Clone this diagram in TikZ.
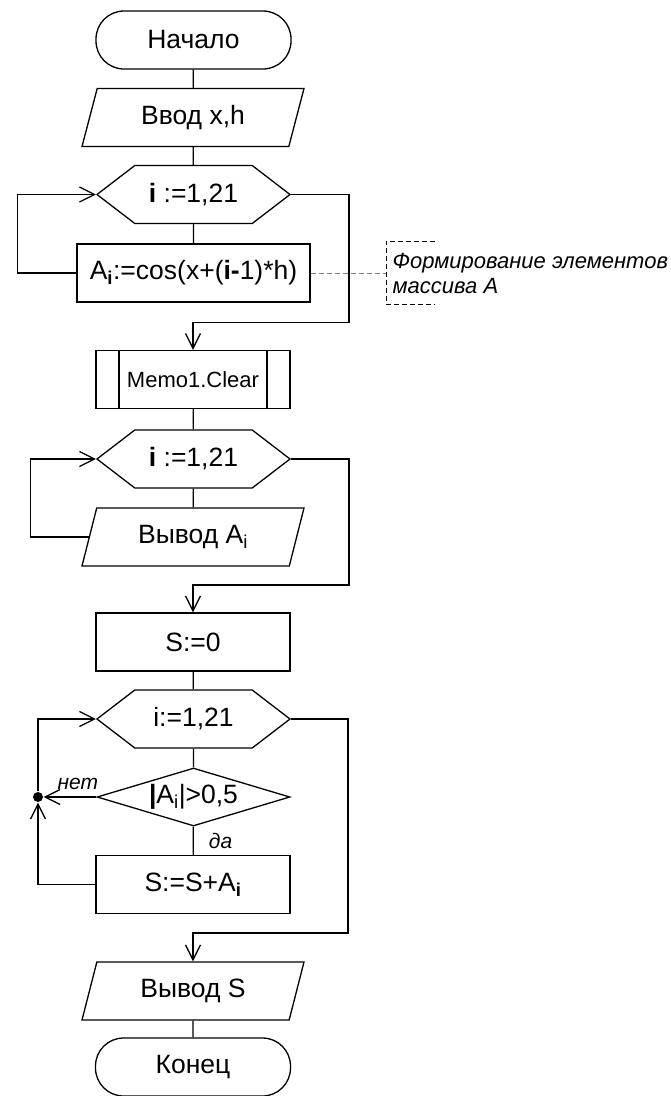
\documentclass[tikz,border=0pt]{standalone}
\usepackage{fontspec}
\setmainfont{Liberation Sans}
\usepackage{tikz}
\usetikzlibrary{shapes.geometric,shapes.symbols,arrows.meta}

\begin{document}
\begin{tikzpicture}[x=1pt,y=-1pt,line width=1.3pt,
    every node/.style={font=\fontsize{26.5}{31}\selectfont},
    term/.style={draw,rounded corners=28pt,minimum width=195pt,minimum height=58pt},
    proc/.style={draw,minimum width=194pt,minimum height=58pt},
    io/.style={draw,trapezium,trapezium left angle=64,trapezium right angle=116,
        trapezium stretches body,minimum width=222pt,minimum height=58pt},
    cyc/.style={draw,signal,signal to=west and east,signal pointer angle=75,
        minimum width=193pt,minimum height=58pt},
    cond/.style={draw,diamond,aspect=3.3,inner sep=0pt,minimum width=193pt,minimum height=58pt},
    memo/.style={proc,font=\fontsize{22}{26}\selectfont,path picture={
        \draw ([xshift=23pt]path picture bounding box.north west) -- ([xshift=23pt]path picture bounding box.south west)
              ([xshift=-23pt]path picture bounding box.north east) -- ([xshift=-23pt]path picture bounding box.south east);}},
    arr/.style={-{Straight Barb[length=15pt,width=15pt]}},
    lbl/.style={font=\fontsize{21}{25}\selectfont\itshape},
    note/.style={dash pattern=on 5pt off 3pt,line width=0.9pt},
    dot/.style={circle,fill,inner sep=0pt,minimum size=10pt}]
    \useasboundingbox (0,0) rectangle (671,1096);

    \node[term] (start) at (193.5,40) {Начало};
    \node[io] (in) at (193,117.5) {Ввод x,h};
    \node[cyc] (loopA) at (193.5,194.5) {\textbf{i} :=1,21};
    \node[proc,minimum width=233pt] (calc) at (193.5,273) {A\textsubscript{\textbf{i}}:=cos(x+(\textbf{i-}1)*h)};
    \node[memo] (memo) at (193,379.5) {Memo1.Clear};
    \node[cyc] (loopB) at (193.5,459) {\textbf{i} :=1,21};
    \node[io] (outA) at (193,537) {Вывод A\textsubscript{i}};
    \node[proc] (zero) at (193,642) {S:=0};
    \node[cyc] (loopC) at (193.5,719) {i:=1,21};
    \node[cond] (test) at (193.5,797) {\textbf{|}A\textsubscript{i}|>0,5};
    \node[proc] (sum) at (193,884.5) {S:=S+A\textsubscript{\textbf{i}}};
    \node[io] (outS) at (193,991) {Вывод S};
    \node[term] (stop) at (193,1067) {Конец};
    \node[dot] (join) at (38,797) {};
    \node[lbl,font=\fontsize{22}{25}\selectfont\itshape,align=left,anchor=west,inner xsep=6pt,minimum height=62pt] (ann) at (386,273)
        {Формирование элементов\\массива A};

    \draw (start) -- (in);
    \draw (in) -- (loopA);
    \draw (loopA) -- (calc);
    \draw[arr] (calc.west) -- ++(-59,0) |- (loopA.west);
    \draw[arr] (loopA.east) -- ++(58,0) -- ++(0,128) -| (memo.north);
    \draw[note,gray] (calc.east) -- (ann.west);
    \draw[note] ([xshift=49pt]ann.north west) -- (ann.north west) -- (ann.south west) -- ([xshift=49pt]ann.south west);

    \draw (memo) -- (loopB);
    \draw (loopB) -- (outA);
    \draw[arr] (outA.west) -- ++(-58,0) |- (loopB.west);
    \draw[arr] (loopB.east) -- ++(58,0) -- ++(0,126) -| (zero.north);

    \draw (zero) -- (loopC);
    \draw (loopC) -- (test);
    \draw (test) -- node[lbl,right,inner xsep=15pt] (yes) {да} (sum);
    \draw[arr] (test.west) -- node[lbl,pos=.35,above,inner ysep=7pt] (no) {нет} (join);
    \draw[arr] (sum.west) -| (join);
    \draw[arr] (join) |- (loopC.west);
    \draw[arr] (loopC.east) -- ++(57,0) -- ++(0,214) -| (outS.north);
    \draw (outS) -- (stop);
\end{tikzpicture}
\end{document}
